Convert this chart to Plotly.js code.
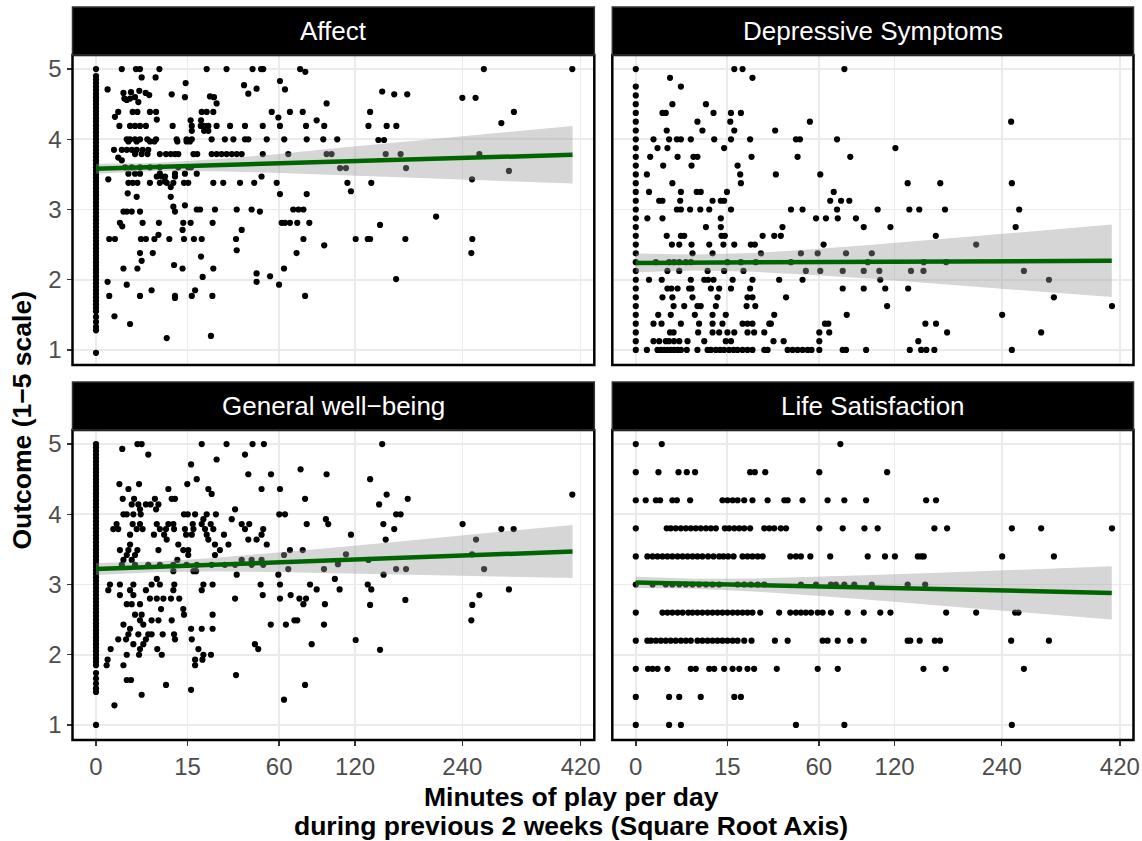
<!DOCTYPE html>
<html>
<head>
<meta charset="utf-8">
<script src="https://cdn.plot.ly/plotly-3.0.1.min.js"></script>
<style>html,body{margin:0;padding:0;background:#fff;}#plot{width:1142px;height:841px;}</style>
</head>
<body>
<div id="plot"></div>
<script>
// ---------------- DATA ----------------
// x values are on the square-root scale: sqrt(minutes of play per day)
const panelTitles = ["Affect", "Depressive Symptoms", "General well\u2212being", "Life Satisfaction"];
const xTickMinutes = [0, 15, 60, 120, 240, 420];
const yTicks = [1, 2, 3, 4, 5];

// Affect: outcome values for participants with 0 minutes
const affectZeroY = [5,4.9,4.85,4.8,4.75,4.7,4.65,4.6,4.55,4.5,4.45,4.4,4.35,4.3,4.25,4.2,4.15,4.1,4.05,4,3.95,3.9,3.85,3.8,3.75,3.7,3.65,3.6,3.55,3.5,3.45,3.4,3.35,3.3,3.25,3.2,3.15,3.1,3.05,3,2.95,2.9,2.85,2.8,2.75,2.7,2.65,2.6,2.55,2.5,2.45,2.4,2.35,2.3,2.25,2.2,2.15,2.1,2.05,2,1.95,1.9,1.85,1.8,1.75,1.7,1.65,1.6,1.55,1.47,1.4,1.33,1.28,0.96];
// Affect: [sqrt(minutes), outcome]
const affectPoints = [
[1.09,5],[1.69,5],[1.86,5],[2.68,5],[4.68,5],[5.52,5],[6.62,5],[6.98,5],[7.07,5],[8.63,5],[8.85,4.96],
[1.93,4.88],[2.52,4.88],[7.78,4.83],[3.79,4.8],[6.26,4.77],[0.49,4.71],[6.79,4.72],[7.99,4.71],[6.44,4.65],
[1.16,4.66],[1.48,4.67],[1.83,4.69],[2.1,4.66],[2.25,4.63],[1.2,4.58],[1.44,4.58],[1.65,4.6],[1.79,4.53],[1.3,4.56],
[3.2,4.64],[3.76,4.6],[4.82,4.61],[4.99,4.6],[5.1,4.51],[9.75,4.51],
[0.94,4.39],[1.55,4.39],[1.75,4.39],[2.28,4.39],[2.54,4.39],[4.47,4.39],[4.68,4.39],[4.96,4.39],[7.43,4.39],[8.2,4.39],[8.74,4.39],
[0.8,4.32],[2.57,4.28],[4.0,4.27],[4.44,4.27],[7.71,4.31],[9.33,4.27],
[0.99,4.19],[1.44,4.19],[1.65,4.19],[1.86,4.19],[2.11,4.19],[3.24,4.19],[4.05,4.19],[4.43,4.19],[4.57,4.19],[4.75,4.19],[5.1,4.19],[5.67,4.19],[6.3,4.19],[7.05,4.19],[7.78,4.19],[8.88,4.19],[9.65,4.19],
[4.05,4.12],[4.57,4.12],[4.75,4.12],
[1.3,4],[1.44,4],[1.65,4],[1.86,4],[2.17,4],[2.54,4],[3.41,4],[3.83,4],[4.05,4],[4.89,4],[5.45,4],[5.81,4],[6.3,4],[6.44,4],[7.22,4],[7.96,4],[8.91,4],[9.61,4],[10.2,4],
[1.37,3.97],[1.72,3.97],[2.28,3.97],[2.47,3.97],[3.44,3.97],[3.83,3.97],[3.97,3.97],
[0.76,3.85],[1.09,3.85],[1.3,3.85],[1.51,3.85],[1.72,3.85],[1.97,3.85],[2.21,3.85],
[1.65,3.79],[1.93,3.79],[2.18,3.79],[2.7,3.79],[2.96,3.79],[3.16,3.79],[3.34,3.79],[3.48,3.79],[4.12,3.79],[4.28,3.79],[4.89,3.79],[5.1,3.79],[5.31,3.79],[5.52,3.79],[5.74,3.79],[5.95,3.79],[6.16,3.79],[7.05,3.79],[8.13,3.79],[9.75,3.79],[9.96,3.79],
[0.94,3.74],[1.09,3.7],
[1.23,3.6],[1.51,3.6],[1.86,3.6],[2.28,3.6],[2.7,3.6],[3.48,3.6],[3.9,3.6],[4.02,3.6],
[0.52,3.43],
[1.37,3.51],[1.65,3.51],[1.86,3.51],[2.7,3.51],[3.34,3.51],[3.76,3.51],[4.26,3.51],
[2.57,3.47],[2.78,3.47],[2.92,3.47],[3.34,3.47],[2.92,3.4],[7.0,3.47],
[1.37,3.38],[1.55,3.38],[1.75,3.38],[2.28,3.38],[2.7,3.38],[2.99,3.38],[3.27,3.38],[3.72,3.38],[3.9,3.38],[4.96,3.38],[5.38,3.38],[6.09,3.38],[6.69,3.38],[7.64,3.38],
[3.16,3.32],[1.34,3.23],[1.72,3.18],[7.78,3.22],[8.91,3.22],[3.16,3.18],[3.76,3.06],[3.27,3.04],
[4.26,3],[4.4,3],[5.03,3],[5.95,3],[6.58,3],[8.34,3],[8.56,3],[8.77,3],
[1.16,2.97],[1.3,2.97],[1.51,2.97],[1.86,2.97],[3.34,2.97],[6.93,2.97],
[1.01,2.81],[1.97,2.81],[2.66,2.81],[3.69,2.81],[4.0,2.81],[4.93,2.81],[7.85,2.81],[7.99,2.81],[8.2,2.81],[8.51,2.81],[9.02,2.81],
[1.11,2.76],[6.16,2.71],[3.66,2.71],[2.64,2.64],
[0.56,2.58],[0.8,2.58],[1.9,2.58],[2.11,2.58],[2.47,2.58],[3.1,2.58],[3.72,2.58],[4.14,2.58],[4.47,2.58],[5.92,2.58],[8.77,2.58],[9.65,2.49],
[5.95,2.42],[1.86,2.38],[2.4,2.38],[8.48,2.38],[4.44,2.33],[1.93,2.27],[3.3,2.21],[3.66,2.16],
[1.16,2.16],[1.75,2.16],[4.96,2.16],[7.95,2.16],[6.79,2.09],[4.51,2.04],[7.36,2.05],
[0.49,1.97],[6.79,1.97],[1.3,1.93],[7.74,1.93],[2.35,1.85],[4.19,1.85],
[0.56,1.77],[1.86,1.77],[3.34,1.77],[4.05,1.77],[4.92,1.77],[8.84,1.77],[3.34,1.74],
[0.78,1.48],[1.44,1.37],[4.86,1.2],[2.99,1.17],
[16.4,5],[20.14,5],[12.1,4.68],[12.61,4.64],[13.16,4.64],[15.49,4.59],[16.05,4.59],[11.59,4.39],[17.67,4.39],[17.14,4.23],
[11.52,4.19],[12.29,4.19],[12.7,4.19],[11.94,3.99],[12.18,3.99],[12.25,3.79],[12.88,3.79],[16.21,3.79],[10.32,3.59],[10.57,3.59],
[13.11,3.59],[17.46,3.55],[15.9,3.43],[10.63,3.38],[11.64,3.38],[10.78,3.26],[14.38,2.9],[12.01,2.78],[10.98,2.58],[11.49,2.58],
[11.59,2.58],[13.08,2.58],[15.91,2.58],[15.87,2.38],[12.69,2.01]
];

// Depressive symptoms: outcome values at 0 minutes, then rows [outcome, [sqrt(minutes)...]]
const depZeroY = [5,4.75,4.625,4.5,4.375,4.25,4.125,4,3.875,3.75,3.625,3.5,3.375,3.25,3.125,3,2.875,2.75,2.625,2.5,2.375,2.25,2.125,2,1.875,1.75,1.625,1.5,1.375,1.25,1.125,1];
const depRows = [
[5.0,[4.17,4.52,8.83]],
[4.875,[1.45,4.94]],
[4.75,[1.91]],
[4.5,[1.55,2.97]],
[4.375,[1.13,1.27,3.29,4.03,4.45]],
[4.25,[2.61,4.0,7.37,15.89]],
[4.125,[1.31,2.82,4.17,5.9]],
[4.0,[0.75,1.41,1.74,1.91,2.33,3.32,4.03,4.84,6.78,6.95,8.52]],
[3.875,[0.92,1.34,3.74,10.99]],
[3.75,[0.61,1.77,2.44,2.61,4.9,6.85,9.08]],
[3.625,[1.16,2.36,4.31]],
[3.5,[0.47,4.42,5.93,7.81]],
[3.375,[1.55,4.45,11.51,12.89,15.92]],
[3.25,[0.56,1.91,2.58,2.75,3.86,8.38]],
[3.125,[0.99,1.13,1.88,3.25,3.6,3.74,8.23,8.69,9.04]],
[3.0,[1.74,1.91,2.3,2.73,3.11,4.03,6.57,7.06,8.52,10.24,11.58,12.0,13.09,16.23]],
[2.875,[0.49,1.13,3.6,7.63,8.05,8.55,9.32]],
[2.75,[2.97,3.6,6.21,9.65,10.78,16.08]],
[2.625,[1.31,1.91,2.05,3.63,3.77,5.37,5.86,6.14,12.7]],
[2.5,[1.53,1.84,2.36,3.11,3.71,4.17,4.87,5.04,7.95,14.41]],
[2.375,[2.4,3.25,5.3,6.99,7.7,8.9,9.99]],
[2.25,[0.85,1.41,1.62,1.84,2.12,2.33,3.88,4.45,5.08,6.57,9.82,12.19,13.14]],
[2.125,[1.34,1.84,3.04,3.74,4.56,7.2,7.81,8.76,9.65,10.31,11.65,12.18,16.43]],
[2.0,[0.56,1.1,2.33,2.9,3.06,3.29,4.1,4.94,6.07,7.06,10.35,17.49]],
[1.875,[1.34,1.51,1.77,2.26,2.36,3.18,3.53,4.03,4.84,8.76,9.65,10.56,11.53]],
[1.75,[1.13,1.55,2.4,3.46,4.73,4.94,6.36,17.7]],
[1.625,[1.6,2.05,2.61,2.75,3.39,4.69,5.06,10.64,20.16]],
[1.5,[0.95,1.48,2.5,3.25,3.81,5.86,8.93,15.51]],
[1.375,[0.75,1.09,1.91,2.68,3.25,3.67,4.52,4.73,4.94,5.65,5.72,8.01,8.15,12.26,12.71]],
[1.25,[1.45,1.6,2.64,3.25,3.53,3.88,4.17,4.73,5.01,5.44,7.77,8.19,13.18,17.16]],
[1.125,[0.75,0.99,1.27,1.41,1.62,1.84,2.19,2.9,3.81,4.03,5.83,6.26,7.77,11.96]],
[1.0,[0.47,0.92,1.06,1.2,1.34,1.48,1.62,1.77,1.91,2.16,2.61,3.04,3.18,3.39,3.57,3.74,3.95,4.14,4.31,4.52,4.73,4.94,5.44,5.58,6.43,6.64,6.85,7.06,7.27,7.44,7.77,8.76,8.9,9.75,11.6,12.08,12.3,12.64,15.92]]
];

// General well-being
const wellZeroY = [5,4.95,4.9,4.85,4.8,4.75,4.7,4.65,4.6,4.55,4.5,4.45,4.4,4.35,4.3,4.25,4.2,4.15,4.1,4.05,4,3.95,3.9,3.85,3.8,3.75,3.7,3.65,3.6,3.55,3.5,3.45,3.4,3.35,3.3,3.25,3.2,3.15,3.1,3.05,3,2.95,2.9,2.85,2.8,2.75,2.7,2.65,2.6,2.55,2.5,2.45,2.4,2.35,2.3,2.25,2.2,2.15,2.1,2.05,2,1.95,1.9,1.85,1.74,1.66,1.59,1.52,1.47,1.0];
const wellPoints = [
[1.75,5],[1.93,5],[4.47,5],[5.52,5],[6.62,5],[7.1,5],
[1.11,4.93],[2.21,4.85],[6.3,4.85],[5.1,4.78],[4.02,4.71],[8.65,4.64],[6.44,4.57],[7.4,4.57],[9.75,4.57],[4.26,4.5],
[0.99,4.43],[1.82,4.43],[3.86,4.43],
[1.37,4.36],[3.06,4.36],[4.75,4.36],[7.0,4.36],[7.78,4.36],[4.89,4.29],
[1.13,4.22],[1.61,4.22],[2.49,4.22],[3.2,4.22],[3.34,4.22],[8.84,4.22],
[1.51,4.14],[1.79,4.14],[2.11,4.14],[2.31,4.14],[2.64,4.14],
[1.86,4.07],[2.54,4.07],[5.88,4.07],
[1.16,4],[1.3,4],[1.58,4],[1.89,4],[3.72,4],[3.88,4],[4.19,4],[4.68,4],[5.07,4],[7.75,4],[7.99,4],
[4.54,3.93],[5.74,3.93],[9.72,3.93],
[0.87,3.86],[1.55,3.86],[1.86,3.86],[2.57,3.86],[3.06,3.86],[3.27,3.86],[4.09,3.86],[4.47,3.86],[4.85,3.86],[6.16,3.86],[6.48,3.86],[8.91,3.86],[9.82,3.86],
[0.73,3.79],[0.94,3.79],[1.72,3.79],[1.97,3.79],[2.7,3.79],[2.96,3.79],[3.3,3.79],[3.76,3.79],[4.12,3.79],[4.61,3.79],[4.96,3.79],[6.3,3.79],[7.07,3.79],
[1.44,3.71],[2.45,3.71],[2.88,3.71],[3.81,3.71],[4.05,3.71],[4.68,3.71],[5.41,3.71],[7.0,3.71],
[2.99,3.64],[4.75,3.64],[6.44,3.64],[6.79,3.64],
[1.44,3.57],[3.48,3.57],[5.03,3.57],[5.6,3.57],[7.22,3.57],
[1.01,3.49],[1.37,3.49],[1.75,3.49],[2.64,3.49],[3.69,3.49],[3.9,3.49],[5.24,3.49],[8.2,3.49],[8.74,3.49],
[1.3,3.42],[1.65,3.42],[3.9,3.42],[5.03,3.42],[7.95,3.42],
[1.16,3.35],[1.51,3.35],[3.44,3.35],[6.16,3.35],[6.58,3.35],[7.0,3.35],
[1.09,3.28],[1.65,3.28],[2.21,3.28],[2.7,3.28],[3.27,3.28],[3.83,3.28],[4.26,3.28],[4.89,3.28],[5.45,3.28],[5.88,3.28],[6.58,3.28],[7.07,3.28],
[8.13,3.22],[9.64,3.22],[3.27,3.19],[4.12,3.19],[4.23,3.19],[5.95,3.14],[7.71,3.14],[2.57,3.08],[10.1,3.08],
[0.59,3],[1.01,3],[1.58,3],[2.35,3],[2.7,3],[3.31,3],[4.54,3],[4.93,3],[6.96,3],[7.78,3],[9.05,3],
[9.33,2.93],[10.3,2.93],[0.52,2.92],[1.44,2.92],[2.11,2.92],[3.27,2.92],[4.47,2.92],
[1.01,2.85],[1.58,2.85],[7.05,2.85],[8.23,2.85],
[2.28,2.8],[2.57,2.8],[2.85,2.8],[3.17,2.8],[3.52,2.8],[5.88,2.8],[7.78,2.8],[8.6,2.8],[8.88,2.8],
[1.3,2.72],[1.51,2.72],[1.86,2.72],[8.77,2.72],[9.68,2.72],
[3.69,2.65],[2.75,2.65],
[1.65,2.57],[1.93,2.57],[3.72,2.57],[4.93,2.57],
[1.86,2.49],[2.35,2.49],[2.64,2.49],[3.2,2.49],[8.39,2.49],[8.51,2.49],
[1.16,2.43],[2.0,2.43],[7.39,2.43],[8.03,2.43],[9.64,2.43],
[1.44,2.37],[4.02,2.37],[4.47,2.37],[4.93,2.37],
[1.37,2.29],[1.79,2.29],[2.21,2.29],[2.35,2.29],[2.82,2.29],[3.3,2.29],
[0.94,2.22],[1.27,2.22],[2.11,2.22],[3.34,2.22],[4.05,2.22],
[1.58,2.15],[2.0,2.15],[6.72,2.15],[9.12,2.15],
[0.62,2.08],[1.86,2.08],[2.59,2.08],[6.86,2.08],[4.33,2.08],
[1.3,2.0],[1.82,2.0],[2.78,2.0],[4.54,2.0],[4.86,2.0],
[0.49,1.93],[4.19,1.93],[4.5,1.93],[0.45,1.85],[1.16,1.85],[4.19,1.85],
[5.92,1.71],[1.3,1.64],[1.48,1.64],[2.96,1.57],[8.84,1.57],[4.02,1.5],[1.93,1.43],[7.95,1.36],[0.78,1.28],
[12.1,5],[11.59,4.5],[12.29,4.28],[20.14,4.28],[13.18,4.22],[11.97,4.14],[12.69,4],[12.88,4],[12.15,3.86],[15.5,3.86],
[12.61,3.79],[17.14,3.79],[17.66,3.79],[10.78,3.71],[12.25,3.64],[16.07,3.64],[10.57,3.43],[15.9,3.43],[11.52,3.35],[10.23,3.29],
[12.69,3.22],[13.11,3.22],[16.41,3.22],[12.16,3.14],[11.49,3],[11.64,2.93],[17.46,2.93],[16.21,2.85],[13.08,2.78],[11.59,2.71],
[15.91,2.71],[15.87,2.49],[10.98,2.21],[12.01,2.07]
];

// Life satisfaction
const lifeZeroY = [5,4.6,4.2,3.8,3.4,3.0,2.6,2.2,1.8,1.4,1.0];
const lifeRows = [
[5.0,[1.1,8.66]],
[4.6,[0.96,1.81,2.16,2.51,4.84,5.04,5.48,7.77,10.64]],
[4.2,[0.42,0.85,1.03,1.55,1.74,2.3,3.67,3.88,4.1,4.31,4.59,4.94,5.58,6.29,6.43,7.06,8.12,8.83,9.75,12.29,12.71]],
[3.8,[1.31,1.48,1.69,1.91,2.12,2.33,2.54,2.75,2.97,3.18,3.39,3.77,3.95,4.17,4.38,4.59,4.84,5.44,5.65,5.86,6.14,6.36,7.77,8.76,9.68,10.24,12.64,13.18,15.92,17.16,20.16]],
[3.4,[0.49,0.71,0.92,1.13,1.34,1.55,1.77,1.98,2.19,2.4,2.61,2.82,3.06,3.29,3.53,3.71,3.91,4.14,4.52,4.73,4.94,5.16,5.37,6.54,6.78,6.99,7.39,8.23,9.82,10.55,10.97,11.94,12.08,12.19,15.51,17.7]],
[3.0,[0.71,1.27,1.55,1.84,2.12,2.4,2.68,2.97,3.25,3.53,4.31,4.59,4.87,5.16,5.44,6.99,7.63,8.26,8.47,8.83,9.25,9.99,11.51,12.25]],
[2.6,[1.13,1.34,1.55,1.77,1.98,2.22,2.4,2.61,2.82,3.04,3.25,3.46,3.67,3.88,4.1,4.31,4.52,4.73,4.94,5.27,6.07,6.54,6.78,6.99,7.2,7.42,7.7,7.91,8.26,8.97,9.65,10.35,10.78,13.14,14.41,16.06,16.2]],
[2.2,[0.49,0.64,0.85,1.06,1.27,1.48,1.69,1.91,2.12,2.33,2.61,2.82,3.04,3.25,3.46,3.67,3.88,4.1,4.31,4.59,4.9,5.89,6.43,7.91,8.12,8.55,9.08,9.65,11.51,11.62,12.02,12.66,12.88,15.89,17.49]],
[1.8,[0.52,0.71,0.92,1.34,2.33,2.54,3.11,3.32,3.74,4.1,4.38,4.73,5.01,5.97,7.7,8.55,12.18,13.12,16.43]],
[1.4,[1.41,1.84,2.75,4.17,4.45]],
[1.0,[1.41,1.91,6.78,8.83,15.92]]
];

// Linear fits with 95% confidence band, read at these sqrt(minutes) positions
const fitX = [0, 2.5, 5, 7.5, 10, 12.5, 15, 17.5, 20.15];
const affectFit   = [3.58, 3.605, 3.63, 3.654, 3.68, 3.704, 3.729, 3.754, 3.78];
const affectUpper = [3.651, 3.661, 3.714, 3.784, 3.867, 3.944, 4.024, 4.104, 4.19];
const affectLower = [3.509, 3.549, 3.546, 3.524, 3.493, 3.464, 3.434, 3.404, 3.37];
const depFit   = [2.24, 2.244, 2.248, 2.251, 2.255, 2.259, 2.263, 2.266, 2.27];
const depUpper = [2.374, 2.358, 2.382, 2.433, 2.497, 2.566, 2.637, 2.708, 2.786];
const depLower = [2.106, 2.13, 2.114, 2.069, 2.013, 1.952, 1.889, 1.824, 1.754];
const wellFit   = [3.22, 3.251, 3.282, 3.313, 3.344, 3.375, 3.406, 3.437, 3.47];
const wellUpper = [3.305, 3.326, 3.378, 3.448, 3.524, 3.603, 3.683, 3.763, 3.849];
const wellLower = [3.135, 3.176, 3.186, 3.178, 3.164, 3.147, 3.129, 3.111, 3.091];
const lifeFit   = [3.03, 3.011, 2.993, 2.974, 2.956, 2.937, 2.918, 2.9, 2.88];
const lifeUpper = [3.11, 3.081, 3.086, 3.106, 3.134, 3.163, 3.193, 3.225, 3.259];
const lifeLower = [2.95, 2.941, 2.9, 2.842, 2.778, 2.711, 2.643, 2.575, 2.501];

// ---------------- BUILD ----------------
const FONT = "Liberation Sans, Arial, Helvetica, sans-serif";

function fromPairs(zeroY, pairs) {
  const x = zeroY.map(() => 0), y = zeroY.slice();
  pairs.forEach(p => { x.push(p[0]); y.push(p[1]); });
  return {x, y};
}
function fromRows(zeroY, rows) {
  const x = zeroY.map(() => 0), y = zeroY.slice();
  rows.forEach(r => r[1].forEach(v => { x.push(v); y.push(r[0]); }));
  return {x, y};
}

const panels = [
  {pts: fromPairs(affectZeroY, affectPoints), fit: affectFit, up: affectUpper, lo: affectLower},
  {pts: fromRows(depZeroY, depRows), fit: depFit, up: depUpper, lo: depLower},
  {pts: fromPairs(wellZeroY, wellPoints), fit: wellFit, up: wellUpper, lo: wellLower},
  {pts: fromRows(lifeZeroY, lifeRows), fit: lifeFit, up: lifeUpper, lo: lifeLower}
];

const traces = [];
panels.forEach((p, i) => {
  const xa = i === 0 ? 'x' : 'x' + (i + 1);
  const ya = i === 0 ? 'y' : 'y' + (i + 1);
  traces.push({type: 'scatter', mode: 'markers', x: p.pts.x, y: p.pts.y, xaxis: xa, yaxis: ya,
    marker: {color: '#000000', size: 6.2, line: {width: 0}}, hoverinfo: 'skip', cliponaxis: true});
  traces.push({type: 'scatter', mode: 'lines', x: fitX.concat(fitX.slice().reverse()),
    y: p.up.concat(p.lo.slice().reverse()), xaxis: xa, yaxis: ya, fill: 'toself',
    fillcolor: 'rgba(153,153,153,0.4)', line: {width: 0, color: 'rgba(0,0,0,0)'}, hoverinfo: 'skip'});
  traces.push({type: 'scatter', mode: 'lines', x: fitX, y: p.fit, xaxis: xa, yaxis: ya,
    line: {color: '#006400', width: 4.5}, hoverinfo: 'skip'});
});

const W = 1142, H = 841;
const xDom = [[72.5 / W, 594.3 / W], [612.3 / W, 1133.5 / W]];
const yDom = [[(H - 365) / H, (H - 55) / H], [(H - 740) / H, (H - 430) / H]];
const xRange = [-0.994, 21.07];
const yRange = [0.786, 5.2];
const stripTop = 1 + 48 / 310;

const layout = {
  width: W, height: H, margin: {l: 0, r: 0, t: 0, b: 0},
  paper_bgcolor: '#ffffff', plot_bgcolor: '#ffffff', showlegend: false,
  font: {family: FONT}, shapes: [], annotations: []
};

for (let i = 0; i < 4; i++) {
  const col = i % 2, row = Math.floor(i / 2);
  const sfx = i === 0 ? '' : String(i + 1);
  const bottom = row === 1, left = col === 0;
  layout['xaxis' + sfx] = {
    domain: xDom[col], range: xRange, anchor: 'y' + sfx, fixedrange: true,
    tickmode: 'array', tickvals: xTickMinutes.map(Math.sqrt), ticktext: xTickMinutes.map(String),
    showticklabels: bottom, ticks: bottom ? 'outside' : '', ticklen: 5, tickwidth: 1.5, tickcolor: '#333333',
    tickfont: {family: FONT, size: 24, color: '#4D4D4D'},
    showgrid: true, gridcolor: '#EBEBEB', gridwidth: 1.6, zeroline: false, showline: false
  };
  layout['yaxis' + sfx] = {
    domain: yDom[row], range: yRange, anchor: 'x' + sfx, fixedrange: true,
    tickmode: 'array', tickvals: yTicks, ticktext: yTicks.map(String),
    showticklabels: left, ticks: left ? 'outside' : '', ticklen: 5, tickwidth: 1.5, tickcolor: '#333333',
    tickfont: {family: FONT, size: 24, color: '#4D4D4D'},
    showgrid: true, gridcolor: '#EBEBEB', gridwidth: 1.6, zeroline: false, showline: false
  };
  const xr = 'x' + sfx + ' domain', yr = 'y' + sfx + ' domain';
  layout.shapes.push({type: 'rect', xref: xr, yref: yr, x0: 0, x1: 1, y0: 0, y1: 1,
    line: {color: '#000000', width: 2.5}, fillcolor: 'rgba(0,0,0,0)', layer: 'above'});
  layout.shapes.push({type: 'rect', xref: xr, yref: yr, x0: 0, x1: 1, y0: 1, y1: stripTop,
    line: {color: '#333333', width: 1.5}, fillcolor: '#000000', layer: 'above'});
  layout.annotations.push({xref: xr, yref: yr, x: 0.5, y: (1 + stripTop) / 2, xanchor: 'center', yanchor: 'middle',
    text: panelTitles[i], showarrow: false, font: {family: FONT, size: 26, color: '#ffffff'}});
}

layout.annotations.push({xref: 'paper', yref: 'paper', x: 0.5, y: (H - 797) / H, xanchor: 'center', yanchor: 'middle',
  text: '<b>Minutes of play per day</b>', showarrow: false, font: {family: FONT, size: 26.5, color: '#000000'}});
layout.annotations.push({xref: 'paper', yref: 'paper', x: 0.5, y: (H - 826) / H, xanchor: 'center', yanchor: 'middle',
  text: '<b>during previous 2 weeks (Square Root Axis)</b>', showarrow: false, font: {family: FONT, size: 26.5, color: '#000000'}});
layout.annotations.push({xref: 'paper', yref: 'paper', x: 21 / W, y: 0.5, xanchor: 'center', yanchor: 'middle',
  text: '<b>Outcome (1\u22125 scale)</b>', textangle: -90, showarrow: false, font: {family: FONT, size: 26.5, color: '#000000'}});

Plotly.newPlot('plot', traces, layout, {displayModeBar: false, staticPlot: true});
</script>
</body>
</html>
